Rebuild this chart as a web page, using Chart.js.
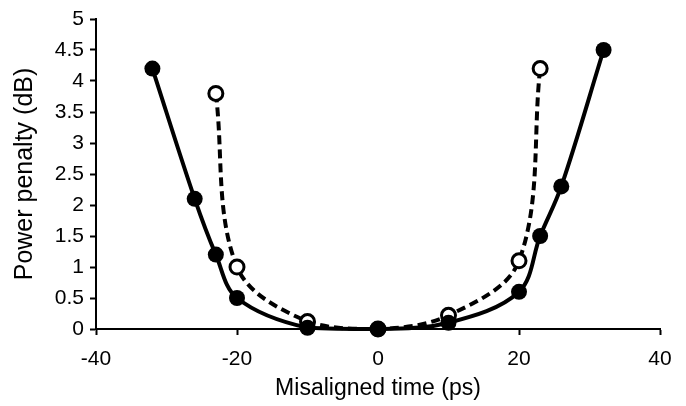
<!DOCTYPE html>
<html>
<head>
<meta charset="utf-8">
<script src="https://cdn.jsdelivr.net/npm/chart.js@4/dist/chart.umd.min.js"></script>
<style>
  html, body { margin: 0; padding: 0; background: #fff; }
  #wrap { width: 686px; height: 406px; }
</style>
</head>
<body>
<div id="wrap"><canvas id="penaltyChart"></canvas></div>
<script>
// filled circles, solid line
const solidTimes = [-32, -26, -23, -20, -10, 0, 10, 20, 23, 26, 32];
const solidPenalty = [4.2, 2.1, 1.2, 0.5, 0.02, 0, 0.1, 0.6, 1.5, 2.3, 4.5];
// open circles, dashed line
const dashedTimes = [-23, -20, -10, 0, 10, 20, 23];
const dashedPenalty = [3.8, 1.0, 0.12, 0, 0.22, 1.1, 4.2];

const xTicks = [-40, -20, 0, 20, 40];
const yMax = 5;

function toPoints(xs, ys) {
  return xs.map((x, i) => ({ x: x, y: ys[i] }));
}

const fontFamily = "'Liberation Sans', Arial, Helvetica, sans-serif";

const ctx = document.getElementById("penaltyChart").getContext("2d");
new Chart(ctx, {
  type: "line",
  data: {
    datasets: [
      {
        label: "solid",
        data: toPoints(solidTimes, solidPenalty),
        clip: false,
        borderColor: "#000",
        backgroundColor: "#000",
        borderWidth: 4,
        tension: 0.35,
        pointRadius: 8,
        pointBackgroundColor: "#000",
        pointBorderColor: "#000",
        pointBorderWidth: 0
      },
      {
        label: "dashed",
        data: toPoints(dashedTimes, dashedPenalty),
        clip: false,
        borderColor: "#000",
        borderWidth: 4,
        borderDash: [9, 5],
        tension: 0.35,
        pointRadius: 7,
        pointBackgroundColor: "#fff",
        pointBorderColor: "#000",
        pointBorderWidth: 3
      }
    ]
  },
  options: {
    responsive: true,
    maintainAspectRatio: false,
    animation: false,
    layout: { padding: { top: 19, right: 26, left: 0, bottom: 0 } },
    plugins: { legend: { display: false }, tooltip: { enabled: false } },
    scales: {
      x: {
        type: "linear",
        min: -40,
        max: 40,
        afterBuildTicks: axis => { axis.ticks = xTicks.map(v => ({ value: v })); },
        afterFit: axis => { axis.height = 77; },
        border: { display: true, color: "#000", width: 2 },
        grid: { drawOnChartArea: false, drawTicks: true, tickLength: 6, tickColor: "#000", tickWidth: 2 },
        ticks: { color: "#000", font: { family: fontFamily, size: 21 }, padding: 12 },
        title: {
          display: true,
          text: "Misaligned time (ps)",
          color: "#000",
          font: { family: fontFamily, size: 23 },
          padding: { top: 0, bottom: 4 }
        }
      },
      y: {
        type: "linear",
        min: 0,
        max: yMax,
        ticks: {
          stepSize: 0.5,
          color: "#000",
          font: { family: fontFamily, size: 21 },
          padding: 6,
          callback: v => String(Number(v.toFixed(1)))
        },
        afterFit: axis => { axis.width = 96; },
        border: { display: true, color: "#000", width: 2 },
        grid: { drawOnChartArea: false, drawTicks: true, tickLength: 6, tickColor: "#000", tickWidth: 2 },
        title: {
          display: true,
          text: "Power penalty (dB)",
          color: "#000",
          font: { family: fontFamily, size: 25 },
          padding: { top: 10, bottom: 0 }
        }
      }
    }
  }
});
</script>
</body>
</html>
